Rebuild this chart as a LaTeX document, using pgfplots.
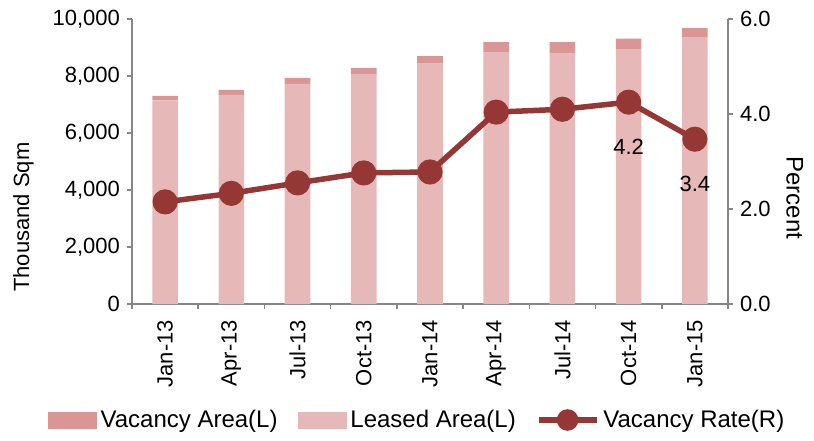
\documentclass[border=0pt]{standalone}
\usepackage{pgfplots}
\pgfplotsset{compat=1.18}
\usepackage{fontspec}
\setmainfont{Liberation Sans}

\definecolor{vacarea}{HTML}{D99694}
\definecolor{leased}{HTML}{E6B9B8}
\definecolor{vrate}{HTML}{953735}
\definecolor{axgray}{HTML}{868686}

\pgfplotsset{
  chartbase/.style={
    scale only axis, width=298pt, height=142.5pt,
    xmin=-0.5, xmax=8.5,
    tick align=outside, major tick length=2.5pt, minor tick length=2.5pt,
    axis line style={axgray, line width=0.75pt},
    tick style={axgray, line width=0.75pt},
    tick label style={font=\fontsize{11}{13}\selectfont},
    label style={font=\fontsize{11}{13}\selectfont},
    /pgf/number format/assume math mode=true,
    clip=false,
  }
}

\begin{document}
\begin{tikzpicture}
\useasboundingbox (-66pt,-68pt) rectangle (341pt,152pt);

% left axis: stacked area bars
\begin{axis}[chartbase,
  axis y line*=left, axis x line*=bottom,
  ymin=0, ymax=10000, ytick={0,2000,...,10000},
  scaled y ticks=false,
  yticklabel style={/pgf/number format/.cd, fixed, 1000 sep={,}},
  ybar stacked, bar width=12.8pt,
  xtick={0,...,8},
  xticklabels={Jan-13,Apr-13,Jul-13,Oct-13,Jan-14,Apr-14,Jul-14,Oct-14,Jan-15},
  minor xtick={-0.5,0.5,...,8.5},
  major x tick style={draw=none},
  xticklabel style={rotate=90, anchor=east},
  xticklabel shift=2pt,
  ylabel={Thousand Sqm},
  ylabel style={at={(axis description cs:-0.182,0.305)}, anchor=center},
]
\addplot[fill=leased, draw=none] coordinates {
  (0,7143) (1,7335) (2,7728) (3,8051) (4,8450) (5,8820) (6,8815) (7,8925) (8,9360)
};
\addplot[fill=vacarea, draw=none] coordinates {
  (0,157) (1,175) (2,202) (3,229) (4,250) (5,370) (6,375) (7,390) (8,320)
};
\end{axis}

% right axis: vacancy rate
\begin{axis}[chartbase,
  axis y line*=right, axis x line=none,
  ymin=0, ymax=6, ytick={0,2,4,6},
  yticklabel style={/pgf/number format/.cd, fixed, fixed zerofill, precision=1},
  ylabel={Percent},
  ylabel style={at={(axis description cs:1.112,0.372)}, anchor=center, rotate=180,
    font=\fontsize{12}{14}\selectfont},
  legend columns=3,
  legend cell align=left,
  legend style={at={(axis description cs:0.48,-0.407)}, anchor=center,
    draw=none, fill=none, font=\fontsize{12}{14}\selectfont,
    /tikz/every even column/.append style={column sep=8pt}},
]
\addlegendimage{legend image code/.code={\fill[vacarea] (0pt,-4pt) rectangle (24pt,4pt);}}
\addlegendentry{Vacancy Area(L)}
\addlegendimage{legend image code/.code={\fill[leased] (0pt,-4pt) rectangle (24pt,4pt);}}
\addlegendentry{Leased Area(L)}
\addplot[vrate, line width=2.75pt, mark=*, mark size=4.9pt,
  legend image code/.code={\draw[vrate, line width=2.75pt] (0pt,0pt) -- (29pt,0pt);
    \fill[vrate] (14.5pt,0pt) circle (4pt);}]
  coordinates {
  (0,2.15) (1,2.33) (2,2.55) (3,2.76) (4,2.78) (5,4.04) (6,4.10) (7,4.25) (8,3.47)
};
\addlegendentry{Vacancy Rate(R)}
\addplot[draw=none, mark=none, forget plot, nodes near coords,
  point meta=explicit symbolic,
  every node near coord/.append style={anchor=center, yshift=-22.5pt,
    font=\fontsize{11}{13}\selectfont}]
  coordinates {(7,4.25)[4.2] (8,3.47)[3.4]};
\end{axis}
\end{tikzpicture}
\end{document}
